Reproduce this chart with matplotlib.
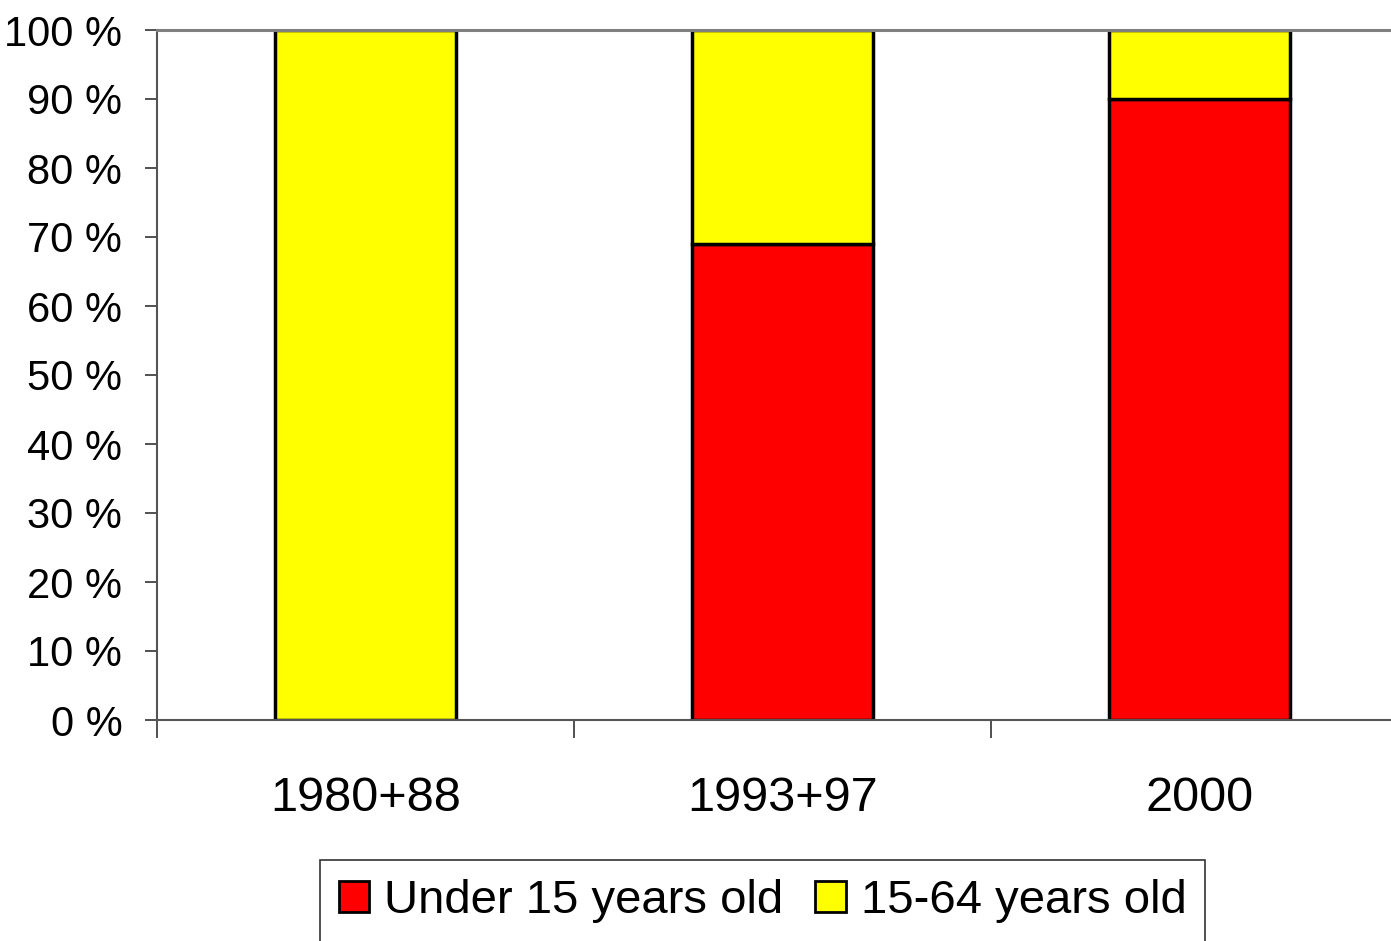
import numpy as np
import matplotlib.pyplot as plt
from matplotlib import font_manager

plt.rcParams['font.family'] = ['Liberation Sans', 'DejaVu Sans']

categories = ['1980+88', '1993+97', '2000']
under_15 = [0, 69, 90]
age_15_64 = [100, 31, 10]

# legend text in the original is narrow, use the narrow face if we have it
try:
    font_manager.findfont('Liberation Sans Narrow', fallback_to_default=False)
    leg_family, leg_size = ['Liberation Sans Narrow', 'DejaVu Sans'], 40
except ValueError:
    leg_family, leg_size = ['Liberation Sans', 'DejaVu Sans'], 34

fig = plt.figure(figsize=(13.91, 9.41), dpi=100)
ax = fig.add_axes([157 / 1391, 1 - 720 / 941, 1251 / 1391, 690 / 941])

x = np.arange(len(categories))
w = 0.436
ax.bar(x, under_15, width=w, color='#ff0000', edgecolor='black', linewidth=2.5,
       label='Under 15 years old')
ax.bar(x, age_15_64, width=w, bottom=under_15, color='#ffff00', edgecolor='black',
       linewidth=2.5, label='15-64 years old')

ax.set_xlim(-0.5, 2.5)
ax.set_ylim(0, 100)
ax.set_yticks(range(0, 101, 10))
ax.set_yticklabels([f'{v} %' for v in range(0, 101, 10)], fontsize=30)
ax.tick_params(axis='y', length=9, width=1.2, pad=16, color='#333333')

ax.set_xticks([-0.5, 0.5, 1.5])
ax.set_xticklabels([])
ax.tick_params(axis='x', which='major', length=13, width=1.2, color='#333333')
ax.set_xticks(x, minor=True)
ax.set_xticklabels(categories, minor=True, fontsize=35)
ax.tick_params(axis='x', which='minor', length=0, pad=40)

ax.spines['top'].set_color('#808080')
ax.spines['top'].set_linewidth(2.2)
ax.spines['left'].set_color('#555555')
ax.spines['left'].set_linewidth(1.5)
ax.spines['bottom'].set_color('#555555')
ax.spines['bottom'].set_linewidth(1.5)
ax.spines['right'].set_visible(False)

leg = fig.legend(loc='upper left', bbox_to_anchor=(320 / 1391, 1 - 860 / 941),
                 ncol=2, prop={'family': leg_family, 'size': leg_size},
                 frameon=True, fancybox=False,
                 handlelength=0.64, handleheight=0.64, handletextpad=0.32,
                 columnspacing=0.68, borderpad=0.4, borderaxespad=0)
leg.get_frame().set_edgecolor('black')
leg.get_frame().set_linewidth(1.2)
for h in leg.legend_handles:
    h.set_linewidth(2)

fig.savefig('out.png', dpi=100)
